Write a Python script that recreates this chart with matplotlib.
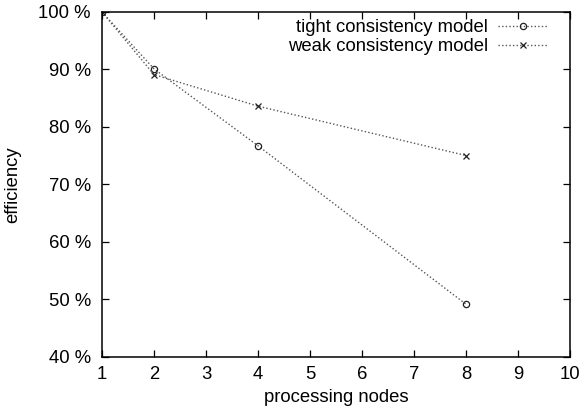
import matplotlib
matplotlib.use("Agg")
import matplotlib.pyplot as plt
from matplotlib.ticker import FuncFormatter

plt.rcParams['font.family'] = ['Liberation Sans', 'DejaVu Sans']
plt.rcParams['font.size'] = 13.3

# data
nodes = [1, 2, 4, 8]
tight = [100, 90.1, 76.7, 49.1]
weak = [100, 89.1, 83.6, 75.0]

W, H = 582, 415
fig = plt.figure(figsize=(W / 100, H / 100), dpi=100)
# axes box in pixels: x 102..570, y 12..356.5
ax = fig.add_axes([102 / W, 1 - 356.5 / H, (570 - 102) / W, (356.5 - 12) / H])

dots = (0, (1, 1.6))
ax.plot(nodes, tight, linestyle=dots, color='#555555', linewidth=1.0,
        marker='o', markersize=4.5, markerfacecolor='none', markeredgecolor='#222222',
        markeredgewidth=0.9, label='tight consistency model')
ax.plot(nodes, weak, linestyle=dots, color='#555555', linewidth=1.0,
        marker='x', markersize=4.5, markeredgecolor='#222222',
        markeredgewidth=0.9, label='weak consistency model')

ax.set_xlim(1, 10)
ax.set_ylim(40, 100)
ax.set_xticks(range(1, 11))
ax.set_yticks(range(40, 101, 10))
ax.yaxis.set_major_formatter(FuncFormatter(lambda v, p: f"{int(v)} %"))
ax.tick_params(direction='in', top=True, right=True, length=5, width=0.9)
ax.tick_params(axis='x', pad=7)
ax.tick_params(axis='y', pad=8)
for s in ax.spines.values():
    s.set_linewidth(1.1)

ax.set_xlabel('processing nodes', labelpad=4)
ax.set_ylabel('efficiency', labelpad=12)

ax.legend(loc='upper right', frameon=False, markerfirst=False,
          handlelength=2.65, handletextpad=0.55, labelspacing=0.12,
          borderpad=0, borderaxespad=0,
          bbox_to_anchor=(547 / W, 1 - 19 / H), bbox_transform=fig.transFigure)

fig.savefig('out.png', dpi=100)
